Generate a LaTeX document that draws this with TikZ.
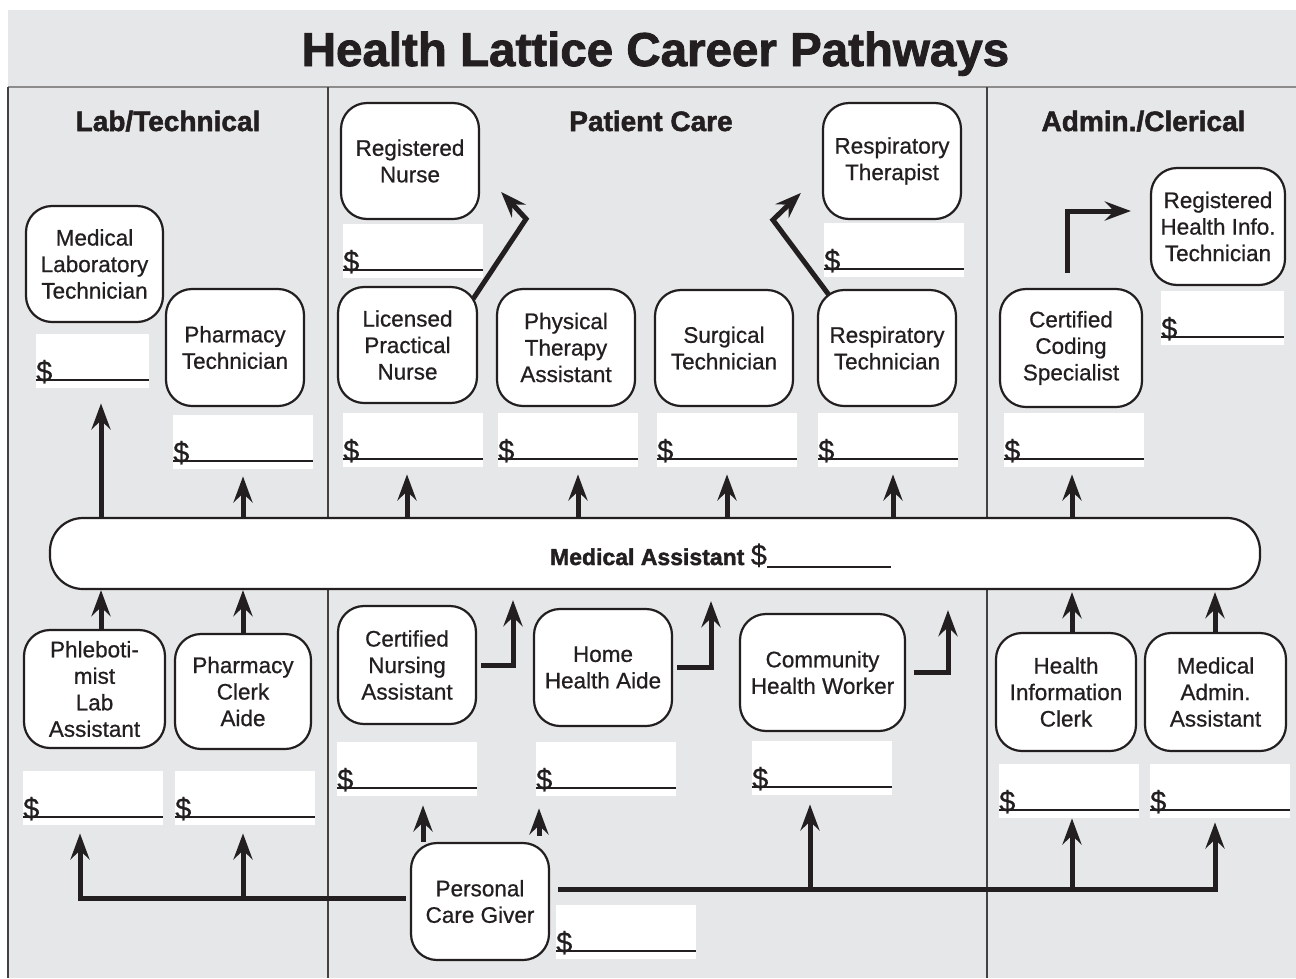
\documentclass[tikz,border=0pt]{standalone}
\usepackage{fontspec}
\usetikzlibrary{arrows.meta}
\setmainfont{Liberation Sans}[FakeBold=0.7]
\newfontfamily\heavyfont{Liberation Sans}[BoldFeatures={FakeBold=1.8}]
\definecolor{ink}{HTML}{231F20}
\definecolor{panel}{HTML}{E6E7E8}
\newcommand{\PayBox}[4]{%
  \node[pay, minimum width=#4pt] (#1) at (#2,#3) {};
  \draw[payline] ([yshift=8.5pt]#1.south west) -- ([yshift=8.5pt]#1.south east);
  \node[dollar] at ([yshift=7pt]#1.south west) {\$};
}
\begin{document}
\begin{tikzpicture}[x=1pt,y=-1pt,
  every node/.style={text=ink},
  job/.style={draw=ink, line width=2.2pt, fill=white, rounded corners=26pt, align=center, inner sep=0pt, font=\fontsize{22.5}{26.5}\selectfont},
  pay/.style={fill=white, inner sep=0pt, minimum height=54pt, anchor=north west},
  payline/.style={line width=2.6pt, draw=ink},
  dollar/.style={anchor=base west, inner sep=0pt, font=\fontsize{29}{30}\selectfont},
  conn/.style={line width=5pt, draw=ink},
  arr/.style={conn, -{Stealth[length=26pt,width=19pt,inset=9pt]}},
  sep/.style={line width=1.2pt, draw=ink!85},
  head/.style={font=\heavyfont\bfseries\fontsize{28}{30}\selectfont, anchor=base, inner sep=0pt}
]
\useasboundingbox (0,0) rectangle (1296,978);
\fill[white] (0,0) rectangle (1296,978);
\fill[panel] (8,10) rectangle (1296,978);
\draw[line width=1.5pt, draw=black!45] (8,87) -- (1296,87);
\draw[sep] (8,87) -- (8,978);
\draw[sep] (328,87) -- (328,978);
\draw[sep] (987,87) -- (987,978);

\node[anchor=base, inner sep=0pt, font=\heavyfont\bfseries\fontsize{47.5}{50}\selectfont] (title) at (655.5,66) {Health Lattice Career Pathways};
\node[head] (hlab) at (168,131) {Lab/Technical};
\node[head] (hpat) at (651,131) {Patient Care};
\node[head] (hadm) at (1143.5,131) {Admin./Clerical};

% Medical Assistant bar
\node[draw=ink, line width=2.2pt, fill=white, rounded corners=33pt, minimum width=1210pt, minimum height=71pt, inner sep=0pt] (MA) at (655,553.5) {};
\node[anchor=base, inner sep=0pt] (malbl) at (720.5,565) {{\heavyfont\bfseries\fontsize{23}{26}\selectfont Medical Assistant }{\fontsize{29}{30}\selectfont\$}\rule[-3pt]{124pt}{2.5pt}};

% Lab / Technical
\node[job, minimum width=137pt, minimum height=116pt] (MLT) at (94.5,264) {Medical\\Laboratory\\Technician};
\node[job, minimum width=138pt, minimum height=117pt] (PT) at (235,347.5) {Pharmacy\\Technician};
\node[job, minimum width=141pt, minimum height=118pt] (PHL) at (94.5,689) {Phleboti-\\mist\\Lab\\Assistant};
\node[job, minimum width=136pt, minimum height=115pt] (PC) at (243,691.5) {Pharmacy\\Clerk\\Aide};

% Patient care
\node[job, minimum width=138pt, minimum height=116pt] (RN) at (410,161) {Registered\\Nurse};
\node[job, minimum width=139pt, minimum height=116pt] (LPN) at (407.5,345) {Licensed\\Practical\\Nurse};
\node[job, minimum width=138pt, minimum height=117pt] (PTA) at (566,347.5) {Physical\\Therapy\\Assistant};
\node[job, minimum width=138pt, minimum height=116pt] (ST) at (724,348) {Surgical\\Technician};
\node[job, minimum width=138pt, minimum height=116pt] (RTech) at (887,348) {Respiratory\\Technician};
\node[job, minimum width=138pt, minimum height=116pt] (RT) at (892,161) {Respiratory\\Therapist};
\node[job, minimum width=138pt, minimum height=118pt] (CNA) at (407,665) {Certified\\Nursing\\Assistant};
\node[job, minimum width=138pt, minimum height=117pt] (HHA) at (603,667.5) {Home\\Health Aide};
\node[job, minimum width=165pt, minimum height=117pt] (CHW) at (822.5,672.5) {Community\\Health Worker};
\node[job, minimum width=138pt, minimum height=117pt] (PCG) at (480,901.5) {Personal\\Care Giver};

% Admin / Clerical
\node[job, minimum width=142pt, minimum height=118pt] (CCS) at (1071,348) {Certified\\Coding\\Specialist};
\node[job, minimum width=134pt, minimum height=117pt] (RHIT) at (1218,226.5) {Registered\\Health Info.\\Technician};
\node[job, minimum width=140pt, minimum height=118pt] (HIC) at (1066,692) {Health\\Information\\Clerk};
\node[job, minimum width=141pt, minimum height=118pt] (MAA) at (1215.5,692) {Medical\\Admin.\\Assistant};

% pay boxes
\PayBox{pMLT}{36}{334}{113}
\PayBox{pPT}{173}{415}{140}
\PayBox{pRN}{343}{224}{140}
\PayBox{pLPN}{343}{413}{140}
\PayBox{pPTA}{498}{413}{140}
\PayBox{pST}{657}{413}{140}
\PayBox{pRTech}{818}{413}{140}
\PayBox{pRT}{824}{223}{140}
\PayBox{pCCS}{1004}{413}{140}
\PayBox{pRHIT}{1161}{291}{123}
\PayBox{pPHL}{23}{771}{140}
\PayBox{pPC}{175}{771}{140}
\PayBox{pCNA}{337}{742}{140}
\PayBox{pHHA}{536}{742}{140}
\PayBox{pCHW}{752}{741}{140}
\PayBox{pHIC}{999}{764}{140}
\PayBox{pMAA}{1150}{764}{140}
\PayBox{pPCG}{556}{905}{140}

% arrows up from the Medical Assistant bar
\draw[arr, shorten >=15pt] (101,0 |- MA.north) -- (101,0 |- pMLT.south);
\draw[arr, shorten >=7pt] (243,0 |- MA.north) -- (243,0 |- pPT.south);
\draw[arr, shorten >=7pt] (407,0 |- MA.north) -- (407,0 |- pLPN.south);
\draw[arr, shorten >=7pt] (578,0 |- MA.north) -- (578,0 |- pPTA.south);
\draw[arr, shorten >=7pt] (727,0 |- MA.north) -- (727,0 |- pST.south);
\draw[arr, shorten >=7pt] (893,0 |- MA.north) -- (893,0 |- pRTech.south);
\draw[arr, shorten >=7pt] (1072,0 |- MA.north) -- (1072,0 |- pCCS.south);

% arrows into the Medical Assistant bar
\draw[arr] (101,0 |- PHL.north) -- (101,0 |- MA.south);
\draw[arr] (243,0 |- PC.north) -- (243,0 |- MA.south);
\draw[arr, shorten >=2pt] (1072,0 |- HIC.north) -- (1072,0 |- MA.south);
\draw[arr, shorten >=2pt] (1215,0 |- MAA.north) -- (1215,0 |- MA.south);
\draw[arr, shorten <=4pt, shorten >=10pt] (CNA.east) -| (513,0 |- MA.south);
\draw[arr, shorten <=4pt, shorten >=11pt] (HHA.east) -| (711,0 |- MA.south);
\draw[arr, shorten <=8pt, shorten >=20pt] (CHW.east) -| (948,0 |- MA.south);

% upward career steps
\draw[arr, line join=miter] ([xshift=-5pt,yshift=-13pt]LPN.north east) -- ++(53,-80) -- ++(-25,-27);
\draw[arr, line join=miter] ([xshift=12pt,yshift=-6pt]RTech.north west) -- ++(-56,-75) -- ++(28,-27);
\draw[arr] ([xshift=-4pt,yshift=15pt]CCS.north) |- ([xshift=-19pt,yshift=15.5pt]RHIT.west);

% Personal Care Giver rails
\coordinate (Lrail) at ([xshift=-4pt,yshift=3.5pt]PCG.west);
\coordinate (Rrail) at ([xshift=8pt,yshift=12.5pt]PCG.east);
\draw[arr, shorten >=8pt] (Lrail) -| (80,0 |- pPHL.south);
\draw[arr, shorten >=8pt] (243,0 |- Lrail) -- (243,0 |- pPC.south);
\draw[arr, shorten >=9pt] (423,0 |- PCG.north) -- (423,0 |- pCNA.south);
\draw[arr, shorten <=6pt, shorten >=12pt] (539,0 |- PCG.north) -- (539,0 |- pHHA.south);
\draw[arr, shorten >=4pt] (Rrail) -| (1215,0 |- pMAA.south);
\draw[arr, shorten >=9pt] (810,0 |- Rrail) -- (810,0 |- pCHW.south);
\draw[arr] (1072,0 |- Rrail) -- (1072,0 |- pHIC.south);
\end{tikzpicture}
\end{document}
